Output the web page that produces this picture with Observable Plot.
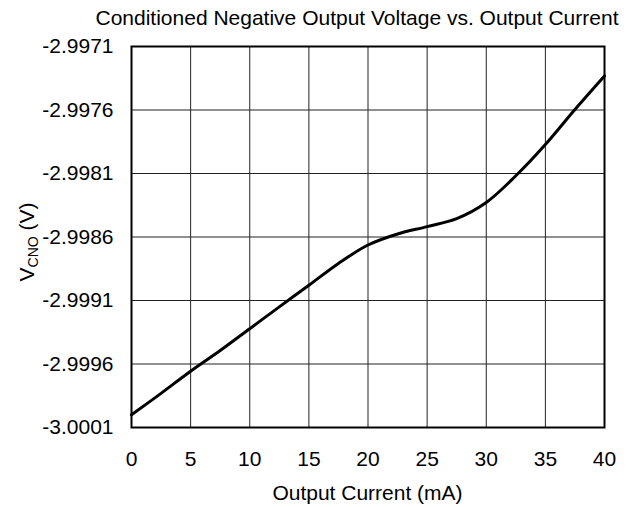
<!DOCTYPE html>
<html>
<head>
<meta charset="utf-8">
<script src="https://cdn.jsdelivr.net/npm/d3@7"></script>
<script src="https://cdn.jsdelivr.net/npm/@observablehq/plot@0.6"></script>
<style>
  html, body { margin: 0; padding: 0; background: #fff; }
  #chart svg { font-family: "Liberation Sans", Arial, sans-serif; font-size: 21px; }
</style>
</head>
<body>
<div id="chart"></div>
<script>
const currentMA = [0, 2.5, 5, 7.5, 10, 12.5, 15, 17.5, 20, 22.5, 25, 27.5, 30, 32.5, 35, 37.5, 40];
const voltageV = [-3.00000, -2.999831, -2.999657, -2.999494, -2.999322, -2.999150, -2.998980, -2.998808, -2.998663, -2.998576, -2.998518, -2.998455, -2.998328, -2.998118, -2.997872, -2.997596, -2.997332];
const xTicks = [0, 5, 10, 15, 20, 25, 30, 35, 40];
const yTicks = [-3.0001, -2.9996, -2.9991, -2.9986, -2.9981, -2.9976, -2.9971];
const titleText = "Conditioned Negative Output Voltage vs. Output Current";
const xLabel = "Output Current (mA)";

const data = currentMA.map((x, i) => ({x, y: voltageV[i]}));

const W = 636, H = 507;
const mL = 131, mR = 32, mT = 46, mB = 80;
const FS = 21;

const chart = Plot.plot({
  width: W,
  height: H,
  marginLeft: mL,
  marginRight: mR,
  marginTop: mT,
  marginBottom: mB,
  style: {fontSize: FS + "px", fontFamily: "'Liberation Sans', Arial, sans-serif", color: "#000", background: "#fff"},
  x: {domain: [0, 40], ticks: xTicks, tickSize: 0, tickPadding: 24, label: null},
  y: {domain: [-3.0001, -2.9971], ticks: yTicks, tickSize: 0, tickPadding: 18, label: null, tickFormat: d => d.toFixed(4)},
  marks: [
    Plot.gridX(xTicks, {stroke: "#222", strokeOpacity: 1, strokeWidth: 1}),
    Plot.gridY(yTicks, {stroke: "#222", strokeOpacity: 1, strokeWidth: 1}),
    Plot.line(data, {x: "x", y: "y", stroke: "#000", strokeWidth: 3, curve: "catmull-rom"}),
    Plot.frame({stroke: "#000", strokeWidth: 2})
  ]
});

const svg = d3.select(chart);
svg.selectAll("text").style("font-size", FS + "px");
svg.append("text")
  .attr("x", 357).attr("y", 25)
  .attr("text-anchor", "middle")
  .style("font-size", FS + "px")
  .attr("fill", "#000")
  .text(titleText);
svg.append("text")
  .attr("x", mL + (W - mL - mR) / 2).attr("y", 500)
  .attr("text-anchor", "middle")
  .style("font-size", FS + "px")
  .attr("fill", "#000")
  .text(xLabel);
const yl = svg.append("text")
  .attr("transform", `translate(34, 242) rotate(-90)`)
  .attr("text-anchor", "middle")
  .style("font-size", FS + "px")
  .attr("fill", "#000");
yl.append("tspan").text("V");
yl.append("tspan").style("font-size", "14px").attr("dy", 4).text("CNO");
yl.append("tspan").attr("dy", -4).text(" (V)");

document.getElementById("chart").appendChild(chart);
</script>
</body>
</html>
